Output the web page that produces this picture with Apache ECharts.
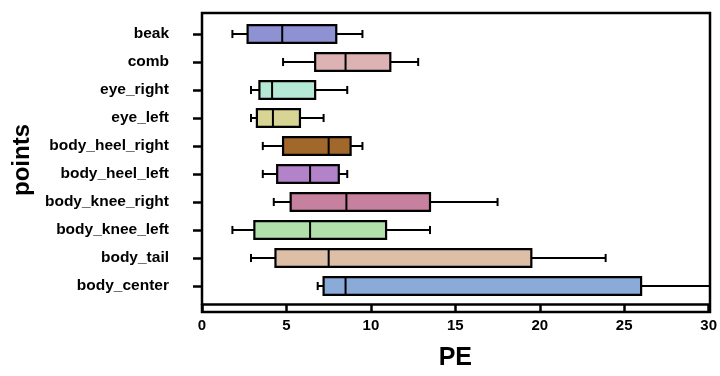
<!DOCTYPE html>
<html>
<head>
<meta charset="utf-8">
<script src="https://cdn.jsdelivr.net/npm/echarts@6/dist/echarts.min.js"></script>
<style>html,body{margin:0;padding:0;background:#fff}#chart{width:720px;height:376px}</style>
</head>
<body>
<div id="chart"></div>
<script>
var points = ['beak', 'comb', 'eye_right', 'eye_left', 'body_heel_right', 'body_heel_left',
    'body_knee_right', 'body_knee_left', 'body_tail', 'body_center'];
var lowWhisker = [1.8, 4.8, 2.9, 2.9, 3.6, 3.6, 4.25, 1.8, 2.9, 6.85];
var q1 = [2.7, 6.7, 3.4, 3.25, 4.8, 4.45, 5.25, 3.1, 4.35, 7.2];
var median = [4.75, 8.5, 4.15, 4.2, 7.5, 6.4, 8.55, 6.4, 7.5, 8.5];
var q3 = [7.95, 11.15, 6.7, 5.8, 8.8, 8.1, 13.5, 10.9, 19.5, 26];
var highWhisker = [9.5, 12.8, 8.6, 7.2, 9.5, 8.6, 17.5, 13.5, 23.9, 30.5];

var boxColors = ['#8e92d2', '#dcb2b2', '#b6e8d6', '#d8d494', '#a2672b', '#b283c8',
    '#c6819f', '#b1e0ab', '#dcbfa6', '#8aaad8'];
var font = '"Liberation Sans", Arial, sans-serif';

var boxData = points.map(function (p, i) {
    return [i, lowWhisker[i], q1[i], median[i], q3[i], highWhisker[i]];
});

function renderBox(params, api) {
    var c = api.value(0);
    var lo = api.coord([api.value(1), c]);
    var b1 = api.coord([api.value(2), c]);
    var md = api.coord([api.value(3), c]);
    var b3 = api.coord([api.value(4), c]);
    var hi = api.coord([api.value(5), c]);
    var band = api.size([0, 1])[1];
    var h = band * 0.64;
    var cap = band * 0.29;
    var y = lo[1];
    var line = { stroke: '#000', lineWidth: 2 };
    return {
        type: 'group',
        children: [
            { type: 'line', shape: { x1: lo[0], y1: y, x2: b1[0], y2: y }, style: line },
            { type: 'line', shape: { x1: b3[0], y1: y, x2: hi[0], y2: y }, style: line },
            { type: 'line', shape: { x1: lo[0], y1: y - cap / 2, x2: lo[0], y2: y + cap / 2 }, style: line },
            { type: 'line', shape: { x1: hi[0], y1: y - cap / 2, x2: hi[0], y2: y + cap / 2 }, style: line },
            { type: 'rect', shape: { x: b1[0], y: y - h / 2, width: b3[0] - b1[0], height: h },
              style: { fill: boxColors[params.dataIndex], stroke: '#000', lineWidth: 2.2 } },
            { type: 'line', shape: { x1: md[0], y1: y - h / 2, x2: md[0], y2: y + h / 2 }, style: line }
        ]
    };
}

var myChart = echarts.init(document.getElementById('chart'));
var option = {
    animation: false,
    grid: [
        { left: 202, right: 10, top: 13, bottom: 64, show: true, borderColor: '#000', borderWidth: 2.5, backgroundColor: 'transparent' },
        { left: 202, right: 10, top: 20, bottom: 68 }
    ],
    xAxis: [
        { gridIndex: 0, type: 'value', min: 0, max: 30, show: false },
        {
            gridIndex: 1, type: 'value', min: 0, max: 30, interval: 5, offset: 4,
            name: 'PE', nameLocation: 'middle', nameGap: 42,
            nameTextStyle: { fontFamily: font, fontSize: 25, fontWeight: 'bold', color: '#000' },
            axisLine: { show: true, lineStyle: { color: '#000', width: 2.5 } },
            axisTick: { show: true, length: 9, lineStyle: { color: '#000', width: 2.5 } },
            axisLabel: { margin: 14, fontFamily: font, fontSize: 15, fontWeight: 'bold', color: '#000' },
            splitLine: { show: false }
        }
    ],
    yAxis: [
        { gridIndex: 0, type: 'value', show: false },
        {
            gridIndex: 1, type: 'category', data: points, inverse: true,
            name: 'points', nameLocation: 'middle', nameGap: 162, nameRotate: 90,
            nameTextStyle: { fontFamily: font, fontSize: 24, fontWeight: 'bold', color: '#000' },
            axisLine: { show: false },
            axisTick: { show: true, alignWithLabel: true, length: 9, lineStyle: { color: '#000', width: 2.5 } },
            axisLabel: { margin: 33, fontFamily: font, fontSize: 15.5, fontWeight: 'bold', color: '#000' },
            splitLine: { show: false }
        }
    ],
    series: [{
        type: 'custom',
        xAxisIndex: 1,
        yAxisIndex: 1,
        clip: true,
        renderItem: renderBox,
        encode: { x: [1, 2, 3, 4, 5], y: 0 },
        data: boxData
    }]
};
myChart.setOption(option);
</script>
</body>
</html>
